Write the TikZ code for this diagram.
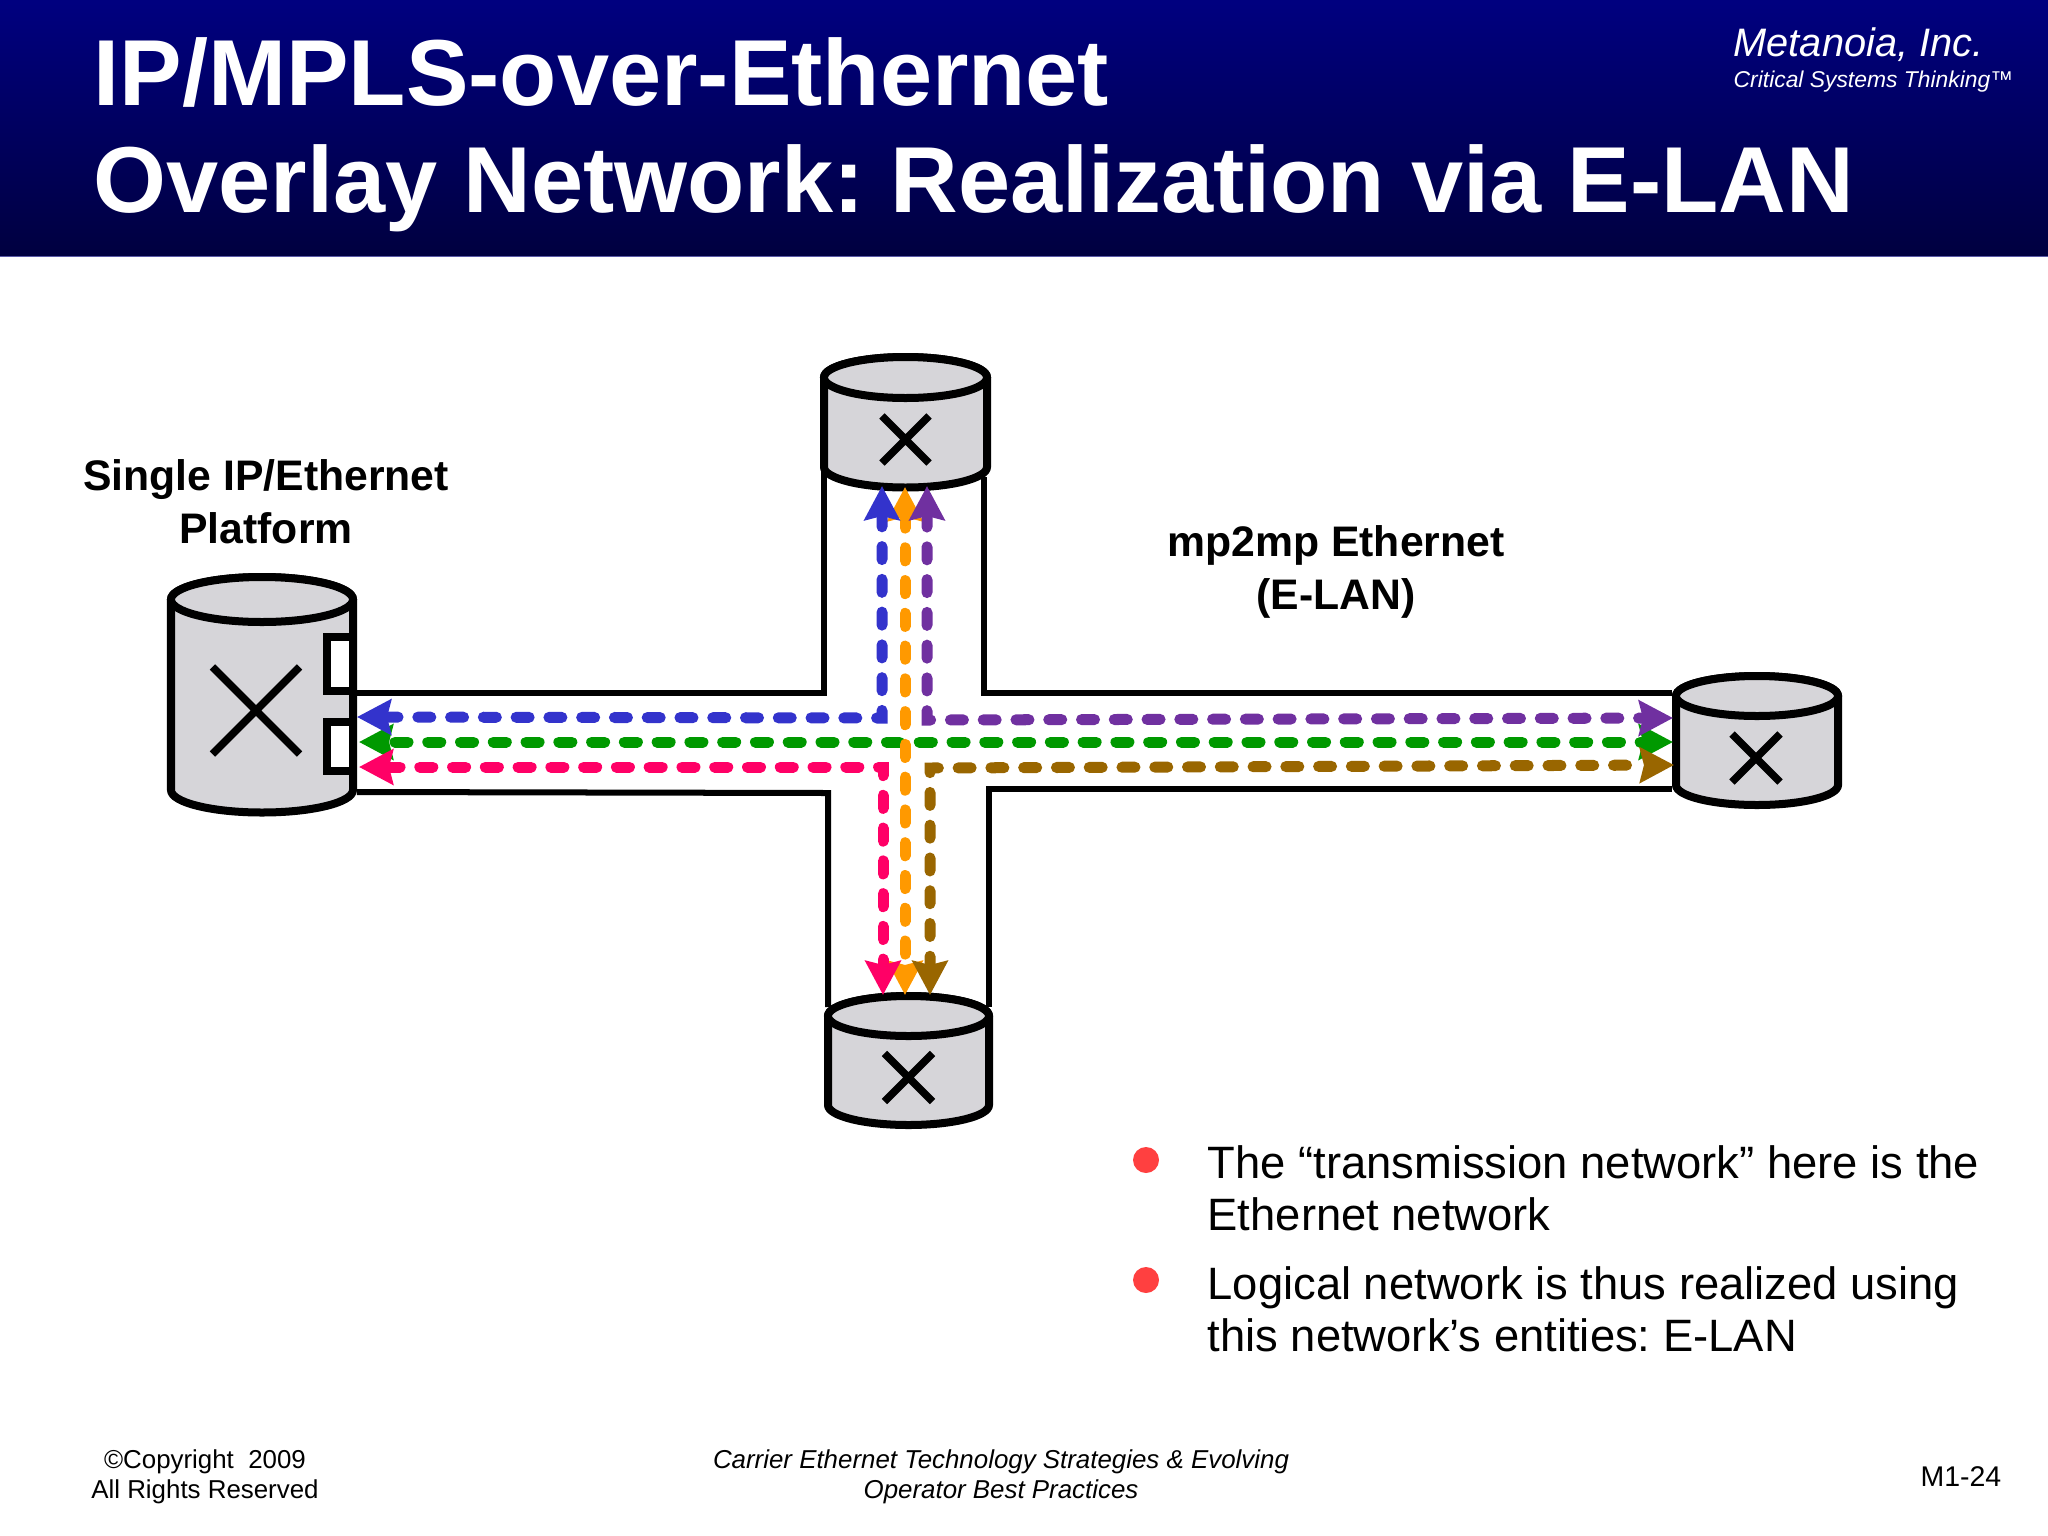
\documentclass[tikz,border=0pt]{standalone}
\usepackage{xcolor}
\usepackage{fontspec}
\setmainfont{Liberation Sans}
\usetikzlibrary{shapes.misc,arrows.meta}
\definecolor{cylgray}{HTML}{D6D5D9}
\definecolor{bluepath}{HTML}{3333CC}
\definecolor{greenpath}{HTML}{009900}
\definecolor{pinkpath}{HTML}{FF0066}
\definecolor{orangepath}{HTML}{FF9900}
\definecolor{purplepath}{HTML}{7030A0}
\definecolor{brownpath}{HTML}{996600}
\definecolor{bullet}{HTML}{FF4040}
% name, centre x, top ellipse y, x radius, y radius, end of side wall y
\newcommand{\drum}[6]{
    \draw[drumline] (#2-#4,#3) -- (#2-#4,#6) arc[x radius=#4*0.01cm, y radius=#5*0.01cm, start angle=180, end angle=360] -- (#2+#4,#3) arc[x radius=#4*0.01cm, y radius=#5*0.01cm, start angle=0, end angle=180] -- cycle;
    \draw[drumline] (#2,#3) ellipse [x radius=#4*0.01cm, y radius=#5*0.01cm];
    \coordinate (#1) at (#2,#3);
}
\frenchspacing
\begin{document}
\begin{tikzpicture}[
    x=0.01cm, y=-0.01cm,
    drumline/.style={draw, fill=cylgray, line width=0.08cm},
    cross/.style={cross out, draw, line width=0.075cm, outer sep=0pt, inner sep=0pt, minimum width=#1, minimum height=#1},
    port/.style={rectangle, draw, fill=white, line width=0.08cm, outer sep=0pt, inner sep=0pt, minimum width=0.26cm},
    pipe/.style={draw, line width=0.06cm},
    lsp/.style={line width=0.11cm, line cap=round, dash pattern=on 0.13cm off 0.1975cm, >={Stealth[length=0.34cm, width=0.35cm, inset=0.04cm]}, <->},
    bigfont/.style={inner sep=0pt, anchor=base, align=center, font=\fontsize{12.15pt}{14.8pt}\selectfont\bfseries},
    bodyfont/.style={inner sep=0pt, anchor=base west, align=left, font=\fontsize{12.9pt}{14.7pt}\selectfont},
    foot/.style={inner sep=0pt, anchor=base, align=center, font=\fontsize{7.36pt}{8.5pt}\selectfont}
]
    \useasboundingbox (0,0) rectangle (2048,1536);
    \shade[top color=blue!50!black, bottom color=blue!25!black] (0,0) rectangle (2048,256);
    \fill[blue!30!gray] (0,256) rectangle (2048,257);

    \node[inner sep=0pt, anchor=base west, text=white, font=\fontsize{26.65pt}{30.4pt}\selectfont\bfseries, align=left] (title) at (93,212) {IP/MPLS-over-Ethernet\\Overlay Network: Realization via E-LAN};
    \node[inner sep=0pt, anchor=base west, text=white, font=\fontsize{11.3pt}{12pt}\selectfont\itshape] (company) at (1733,56) {Metanoia, Inc.};
    \node[inner sep=0pt, anchor=base west, text=white, font=\fontsize{6.5pt}{8pt}\selectfont\itshape] (motto) at (1733,87) {Critical Systems Thinking™};

    \coordinate (topL) at (824,470); \coordinate (cornerTL) at (824,693); \coordinate (bigT) at (357,693);
    \coordinate (topR) at (984,477); \coordinate (cornerTR) at (984,693); \coordinate (rightT) at (1672,693);
    \coordinate (rightB) at (1672,789); \coordinate (cornerBR) at (989,789); \coordinate (botR) at (989,1007);
    \coordinate (bigB) at (357,792); \coordinate (cornerBL) at (828,793); \coordinate (botL) at (828,1007);
    \draw[pipe] (topL) -- (cornerTL) -- (bigT);
    \draw[pipe] (topR) -- (cornerTR) -- (rightT);
    \draw[pipe] (rightB) -- (cornerBR) -- (botR);
    \draw[pipe] (bigB) -- (cornerBL) -- (botL);

    \drum{big}{262}{599.5}{91}{22.5}{790}
    \drum{top}{905.5}{377.5}{81.5}{20.5}{467}
    \drum{bot}{908.5}{1016}{80.5}{20}{1105}
    \drum{right}{1757}{696}{81}{20}{785}

    \node[port, minimum height=0.54cm] (port1) at (340,664) {};
    \node[port, minimum height=0.49cm] (port2) at (340,746.5) {};

    \node[cross=0.87cm] (xbig) at (256,710.5) {};
    \node[cross=0.47cm] (xtop) at (905.5,439.5) {};
    \node[cross=0.48cm] (xbot) at (908.5,1077.5) {};
    \node[cross=0.48cm] (xright) at (1756,758) {};

    \coordinate (greenL) at (359,742); \coordinate (greenR) at (1673,742);
    \coordinate (orangeT) at (905,487); \coordinate (orangeB) at (905,995);
    \coordinate (blueL) at (357,717); \coordinate (blueC) at (882,718); \coordinate (blueT) at (882,486);
    \coordinate (pinkL) at (359,767); \coordinate (pinkC) at (883,767); \coordinate (pinkB) at (883,995);
    \coordinate (purpleT) at (927,486); \coordinate (purpleC) at (927,720); \coordinate (purpleR) at (1673,718);
    \coordinate (brownB) at (930,995); \coordinate (brownC) at (930,768); \coordinate (brownR) at (1674,765);
    \draw[lsp, greenpath, dash phase=0.248cm] (greenL) -- (greenR);
    \draw[lsp, orangepath] (orangeT) -- (orangeB);
    \draw[lsp, brownpath, dash phase=0.023cm] (brownB) -- (brownC) -- (brownR);
    \draw[lsp, pinkpath] (pinkL) -- (pinkC) -- (pinkB);
    \draw[lsp, purplepath] (purpleT) -- (purpleC) -- (purpleR);
    \draw[lsp, bluepath] (blueL) -- (blueC) -- (blueT);

    \node[bigfont] (platform) at (266,543) {Single IP/Ethernet\\Platform};
    \node[bigfont] (elan) at (1336,609) {mp2mp Ethernet\\(E-LAN)};

    \node[circle, fill=bullet, inner sep=0pt, minimum size=0.26cm] (b1) at (1146,1160) {};
    \node[circle, fill=bullet, inner sep=0pt, minimum size=0.26cm] (b2) at (1146,1280) {};
    \node[bodyfont] (t1) at (1207,1230) {The “transmission network” here is the\\Ethernet network};
    \node[bodyfont] (t2) at (1207,1351) {Logical network is thus realized using\\this network’s entities: E-LAN};

    \node[foot] (copy) at (205,1498) {©Copyright~~2009\\All Rights Reserved};
    \node[foot, font=\fontsize{7.36pt}{8.5pt}\selectfont\itshape] (course) at (1001,1498) {Carrier Ethernet Technology Strategies \& Evolving\\Operator Best Practices};
    \node[foot, anchor=base east, font=\fontsize{8.1pt}{9pt}\selectfont] (page) at (2002,1486) {M1-24};
\end{tikzpicture}
\end{document}
